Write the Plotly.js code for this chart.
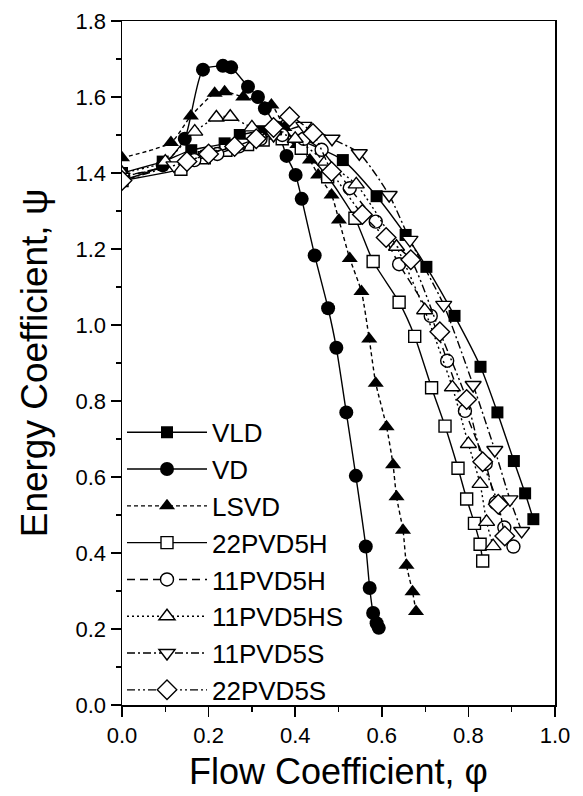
<!DOCTYPE html>
<html>
<head>
<meta charset="utf-8">
<script src="https://cdn.plot.ly/plotly-3.0.1.min.js"></script>
<style>html,body{margin:0;padding:0;background:#fff;}#chart{width:583px;height:796px;}</style>
</head>
<body>
<div id="chart"></div>
<script>
// Series names
const seriesNames = ["VLD", "VD", "LSVD", "22PVD5H", "11PVD5H", "11PVD5HS", "11PVD5S", "22PVD5S"];

// Flow coefficient (phi) and energy coefficient (psi) per series
const vldPhi = [0.0, 0.094, 0.16, 0.237, 0.272, 0.322, 0.36, 0.41, 0.51, 0.588, 0.655, 0.703, 0.768, 0.828, 0.867, 0.905, 0.931, 0.95];
const vldPsi = [1.40, 1.43, 1.46, 1.478, 1.50, 1.51, 1.51, 1.487, 1.434, 1.339, 1.237, 1.153, 1.024, 0.89, 0.77, 0.642, 0.557, 0.489];

const vdPhi = [0.0, 0.094, 0.145, 0.187, 0.233, 0.252, 0.291, 0.314, 0.33, 0.357, 0.38, 0.401, 0.415, 0.445, 0.476, 0.495, 0.518, 0.54, 0.563, 0.572, 0.58, 0.588, 0.593];
const vdPsi = [1.38, 1.42, 1.49, 1.672, 1.682, 1.678, 1.627, 1.60, 1.57, 1.52, 1.445, 1.395, 1.332, 1.183, 1.044, 0.94, 0.77, 0.603, 0.417, 0.308, 0.242, 0.215, 0.203];

const lsvdPhi = [0.0, 0.113, 0.159, 0.214, 0.237, 0.28, 0.345, 0.375, 0.405, 0.434, 0.453, 0.484, 0.501, 0.526, 0.553, 0.571, 0.586, 0.611, 0.626, 0.634, 0.649, 0.657, 0.671, 0.679];
const lsvdPsi = [1.44, 1.48, 1.55, 1.61, 1.614, 1.60, 1.579, 1.52, 1.475, 1.434, 1.395, 1.342, 1.276, 1.175, 1.088, 0.963, 0.847, 0.732, 0.632, 0.548, 0.46, 0.368, 0.298, 0.246];

const p22hPhi = [0.0, 0.136, 0.19, 0.24, 0.29, 0.326, 0.37, 0.414, 0.475, 0.538, 0.58, 0.64, 0.676, 0.715, 0.746, 0.776, 0.796, 0.814, 0.827, 0.833];
const p22hPsi = [1.38, 1.41, 1.44, 1.46, 1.475, 1.487, 1.49, 1.465, 1.39, 1.281, 1.167, 1.06, 0.97, 0.835, 0.734, 0.623, 0.542, 0.478, 0.423, 0.379];

const p11hPhi = [0.0, 0.167, 0.22, 0.27, 0.32, 0.37, 0.42, 0.461, 0.526, 0.586, 0.64, 0.713, 0.751, 0.792, 0.84, 0.863, 0.883, 0.904];
const p11hPsi = [1.39, 1.434, 1.45, 1.47, 1.49, 1.50, 1.49, 1.461, 1.36, 1.272, 1.16, 1.024, 0.906, 0.774, 0.635, 0.532, 0.467, 0.417];

const p11hsPhi = [0.0, 0.10, 0.168, 0.218, 0.25, 0.30, 0.35, 0.40, 0.47, 0.541, 0.634, 0.699, 0.763, 0.80, 0.827, 0.842, 0.857];
const p11hsPsi = [1.40, 1.43, 1.509, 1.546, 1.548, 1.52, 1.51, 1.49, 1.43, 1.37, 1.206, 1.039, 0.836, 0.687, 0.582, 0.482, 0.418];

const p11sPhi = [0.0, 0.12, 0.20, 0.28, 0.35, 0.42, 0.485, 0.548, 0.617, 0.665, 0.743, 0.811, 0.861, 0.896, 0.923];
const p11sPsi = [1.39, 1.42, 1.45, 1.48, 1.50, 1.524, 1.49, 1.452, 1.342, 1.224, 1.053, 0.842, 0.671, 0.541, 0.458];

const p22sPhi = [0.0, 0.15, 0.20, 0.26, 0.31, 0.35, 0.387, 0.441, 0.484, 0.555, 0.61, 0.667, 0.734, 0.796, 0.833, 0.869, 0.884];
const p22sPsi = [1.38, 1.43, 1.45, 1.47, 1.49, 1.52, 1.548, 1.504, 1.404, 1.291, 1.23, 1.172, 0.982, 0.804, 0.64, 0.528, 0.445];

// Tick values
const xTicks = [0.0, 0.2, 0.4, 0.6, 0.8, 1.0];
const yTicks = [0.0, 0.2, 0.4, 0.6, 0.8, 1.0, 1.2, 1.4, 1.6, 1.8];

const FONT = "Liberation Sans, Arial, Helvetica, sans-serif";

function tr(i, phi, psi, symbol, filled, dash, size) {
  return {
    type: "scatter", mode: "lines+markers", name: seriesNames[i],
    x: phi, y: psi, legendgroup: "g" + i,
    line: {color: "#000", width: 1.4, dash: dash, shape: "spline", smoothing: 0.6},
    marker: {symbol: symbol, size: size, color: filled ? "#000" : "#fff",
             line: {color: "#000", width: filled ? 0 : 1.4}}
  };
}

const traces = [
  tr(0, vldPhi, vldPsi, "square", true, "solid", 12),
  tr(1, vdPhi, vdPsi, "circle", true, "solid", 14),
  tr(2, lsvdPhi, lsvdPsi, "triangle-up", true, "4px,3px", 14),
  tr(3, p22hPhi, p22hPsi, "square", false, "solid", 12),
  tr(4, p11hPhi, p11hPsi, "circle", false, "8px,5px", 13),
  tr(5, p11hsPhi, p11hsPsi, "triangle-up", false, "2px,3px", 14),
  tr(6, p11sPhi, p11sPsi, "triangle-down", false, "8px,3px,2px,3px", 14),
  tr(7, p22sPhi, p22sPsi, "diamond", false, "8px,3px,2px,3px,2px,3px", 15)
];

const axisCommon = {
  showgrid: false, zeroline: false, showline: true, linecolor: "#000", linewidth: 1.5,
  mirror: true, ticks: "outside", ticklen: 10, tickwidth: 1.5, tickcolor: "#000",
  tickfont: {family: FONT, size: 22, color: "#000"},
  minor: {ticks: "outside", ticklen: 5, tickwidth: 1.2, tickcolor: "#000"}
};

const layout = {
  width: 583, height: 796,
  margin: {l: 122, r: 28, t: 21, b: 91},
  paper_bgcolor: "#fff", plot_bgcolor: "#fff",
  showlegend: true,
  legend: {x: 0.0, y: 0.433, xanchor: "left", yanchor: "top", bgcolor: "rgba(0,0,0,0)",
           font: {family: FONT, size: 26, color: "#000"}, itemwidth: 80,
           tracegroupgap: 0, traceorder: "normal"},
  xaxis: Object.assign({}, axisCommon, {
    range: [0, 1.0], tickvals: xTicks, ticktext: xTicks.map(v => v.toFixed(1)),
    minor: Object.assign({}, axisCommon.minor, {dtick: 0.1, tick0: 0}),
    title: {text: "Flow Coefficient, \u03c6", font: {family: FONT, size: 36, color: "#000"}, standoff: 12}
  }),
  yaxis: Object.assign({}, axisCommon, {
    range: [0, 1.8], tickvals: yTicks, ticktext: yTicks.map(v => v.toFixed(1)),
    minor: Object.assign({}, axisCommon.minor, {dtick: 0.1, tick0: 0}),
    title: {text: "Energy Coefficient, \u03c8", font: {family: FONT, size: 37, color: "#000"}, standoff: 16}
  })
};

Plotly.newPlot("chart", traces, layout, {displayModeBar: false, staticPlot: true});
</script>
</body>
</html>
